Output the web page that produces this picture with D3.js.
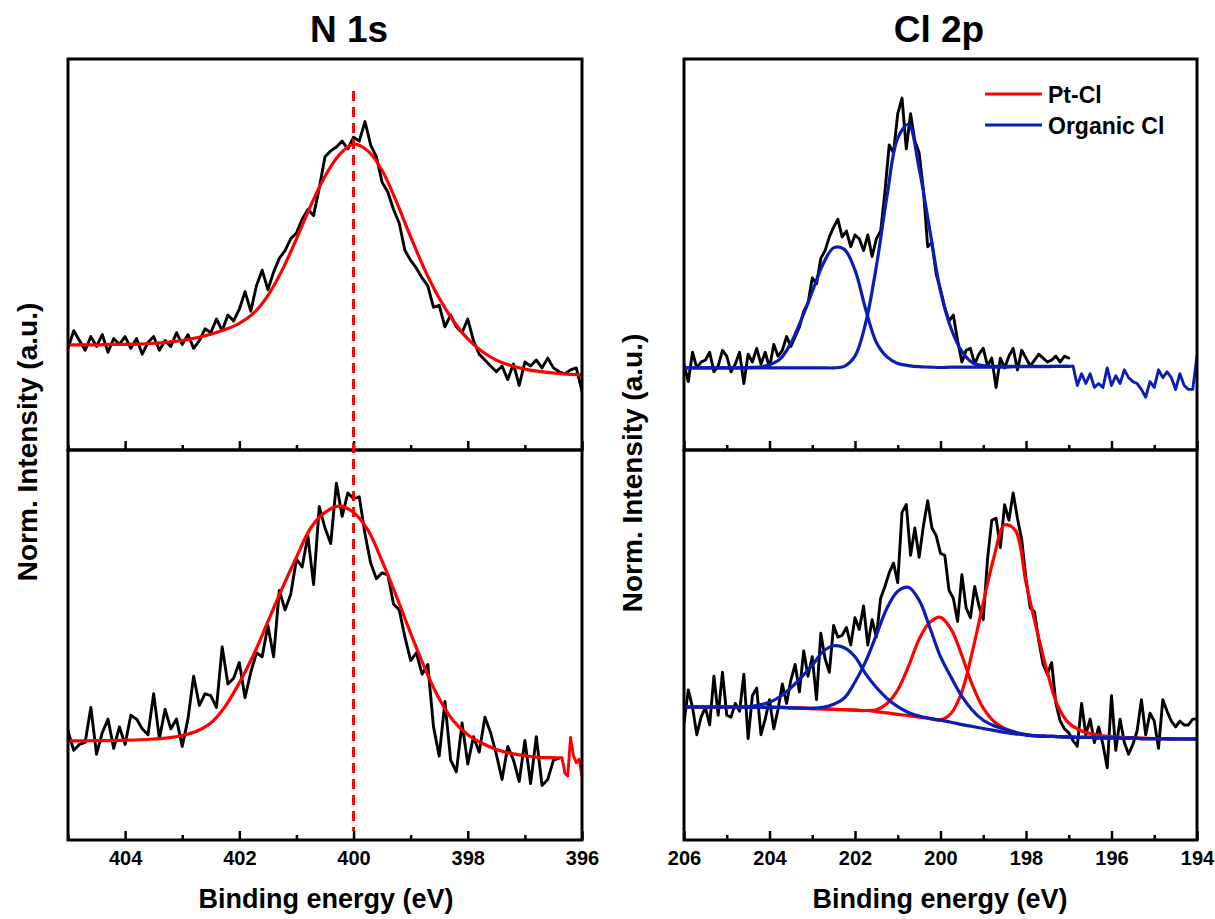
<!DOCTYPE html>
<html><head><meta charset="utf-8">
<script src="https://cdn.jsdelivr.net/npm/d3@7/dist/d3.min.js"></script>
<style>
body{margin:0;background:#fff;}
text{font-family:"Liberation Sans",Arial,sans-serif;font-weight:bold;fill:#000;}
</style>
</head><body>
<svg id="chart" width="1215" height="919"></svg>
<script>
// ---------------- DATA ----------------
// N 1s : energies run 405 -> 396 (eV)
const n1sRange = [405, 396];
const n1sTicks = [404, 402, 400, 398, 396];
const n1sMinor = [405, 403, 401, 399, 397];
const n1sDataStep = 0.1;
const n1sFitStep = 0.25;
// top spectrum (405 -> 396, 0.1 eV)
const n1sTopData = [26.0,30.5,28.0,25.5,29.0,26.5,29.5,25.0,28.5,27.0,
 29.0,26.0,28.5,24.5,27.5,29.0,25.5,28.0,26.5,30.0,
 27.0,29.5,26.0,28.0,31.0,30.0,33.5,30.5,34.5,33.0,
 36.0,40.5,35.5,42.0,46.0,41.0,45.5,49.0,51.0,54.0,
 55.5,59.0,61.5,60.0,67.0,75.0,76.5,77.5,79.0,77.0,
 80.0,79.0,84.0,78.0,75.0,68.5,66.0,61.5,58.0,51.0,
 48.5,46.5,44.0,42.0,36.5,37.0,31.5,34.5,31.5,30.0,
 33.5,28.0,24.5,23.0,21.5,20.0,21.5,18.0,22.0,16.5,
 22.5,21.5,23.0,21.0,23.5,21.0,20.0,19.5,20.5,21.0,
 15.0];
// top fit (405 -> 396, 0.25 eV)
const n1sTopFit = [26.9,26.9,26.9,27.0,27.0,27.1,27.3,27.6,28.0,28.7,29.6,30.8,32.4,35.0,39.5,46.0,54.0,62.5,70.0,75.5,78.2,76.5,71.5,63.5,54.5,46.0,38.8,33.0,28.4,25.2,23.0,21.6,20.7,20.1,19.7,19.4,19.2];
// bottom spectrum (405 -> 396.4, 0.1 eV)
const n1sBotData = [28.0,23.0,24.5,25.0,34.0,22.0,27.5,31.0,23.5,29.0,
 24.5,32.0,31.0,28.5,27.0,37.5,26.0,33.5,28.5,31.0,
 24.0,31.0,42.0,34.5,37.5,37.0,34.0,49.5,40.0,41.5,
 45.5,36.5,43.0,48.0,47.0,55.0,47.0,64.0,59.0,63.0,
 72.0,70.0,78.0,65.5,85.5,80.0,76.0,91.5,83.0,89.0,
 87.5,88.0,78.5,71.0,67.0,68.5,68.0,60.5,59.0,52.0,
 46.0,48.0,42.5,45.0,29.0,21.5,35.5,20.5,17.5,30.0,
 19.5,26.5,22.5,31.5,27.5,22.0,15.5,24.0,20.5,15.0,
 25.5,14.5,26.5,14.0,15.5,20.5,21.0];
// bottom fit (405 -> 396.5, 0.25 eV)
const n1sBotFit = [25.4,25.4,25.5,25.5,25.6,25.7,25.9,26.2,26.8,27.9,30.0,34.2,40.3,47.5,56.0,64.5,72.5,80.0,84.0,85.6,84.0,79.5,71.5,62.5,53.0,44.0,36.2,30.5,27.0,24.8,23.2,22.2,21.6,21.2,21.1];
// red end of bottom trace (396.5 -> 396.0, 0.05 eV)
const n1sBotTail = [21.1,21.1,21.1,21.1,17.2,16.4,26.3,21.6,19.8,20.7,16.4];
const n1sTailStep = 0.05;
// dashed reference line
const n1sRefEnergy = 400.0;
const n1sRefTop = 91.8;   // in top-panel units
const n1sRefBottom = 2.3; // in bottom-panel units

// Cl 2p : energies run 206 -> 194 (eV)
const cl2pRange = [206, 194];
const cl2pTicks = [206, 204, 202, 200, 198, 196, 194];
const cl2pMinor = [205, 203, 201, 199, 197, 195];
const cl2pDataStep = 0.1;
const cl2pFitStep = 0.25;
// top spectrum (206 -> 197, 0.1 eV)
const cl2pTopData = [22.0,17.5,25.0,21.0,22.5,23.0,25.0,20.0,21.5,25.5,
 24.0,20.0,22.0,25.0,17.0,24.5,22.5,26.0,22.0,25.0,
 21.0,27.0,24.0,25.5,29.0,26.5,29.0,31.5,35.5,37.5,
 44.0,42.5,49.0,51.0,54.5,57.0,59.0,54.5,56.0,52.0,
 55.0,54.0,51.0,55.0,49.5,54.0,56.0,66.0,78.0,76.0,
 86.0,90.0,77.0,86.0,79.0,76.0,66.5,52.0,53.0,45.0,
 41.0,36.5,33.0,34.5,28.0,22.5,25.5,26.0,22.0,24.5,
 26.0,21.5,23.5,16.0,23.5,21.0,24.0,26.0,20.5,25.5,
 23.5,21.5,23.0,24.5,23.5,22.5,23.0,24.0,22.5,24.0,
 23.5];
// blue end of top trace (197 -> 194, 0.1 eV)
const cl2pTopTail = [21.4,21.5,16.5,19.5,17.0,19.5,16.0,17.0,16.0,21.0,16.5,19.0,17.0,20.5,18.5,17.5,17.0,15.5,13.5,17.5,16.0,20.5,18.5,20.0,18.5,15.5,19.5,16.5,15.5,15.5,24.0];
// top organic Cl components (206 -> 197, 0.25 eV)
const cl2pTopOrgA = [21.0,21.0,21.0,21.0,21.0,21.0,21.1,21.2,21.8,23.3,27.3,33.5,40.5,47.5,51.7,51.3,46.0,36.0,27.5,23.8,22.1,21.6,21.3,21.2,21.1,21.2,21.2,21.2,21.2,21.2,21.2,21.3,21.3,21.3,21.3,21.4,21.4];
const cl2pTopOrgB = [21.0,21.0,21.0,21.0,21.0,21.0,21.0,21.0,21.0,21.0,21.0,21.0,21.0,21.0,21.0,21.4,24.0,32.5,47.0,65.0,79.8,83.3,72.0,56.2,40.6,31.0,25.2,22.3,21.6,21.4,21.4,21.4,21.4,21.4,21.4,21.4,21.4];
// bottom spectrum (206 -> 194, 0.1 eV)
const cl2pBotData = [30.0,38.5,34.0,27.0,31.5,34.0,29.5,42.0,32.0,43.0,
 32.0,31.5,35.0,33.0,42.5,26.0,37.0,39.0,27.0,31.0,
 36.0,28.5,33.5,40.0,35.0,41.0,45.0,38.0,48.5,42.0,
 47.0,36.0,53.0,46.5,43.0,55.0,52.0,52.5,54.5,50.0,
 57.0,54.0,60.0,50.0,56.5,52.0,62.0,65.0,68.5,71.0,
 66.0,84.0,86.0,73.0,80.0,72.5,80.5,87.0,80.0,78.0,
 73.5,73.0,64.0,62.0,56.0,68.0,59.5,57.0,65.0,60.0,
 56.5,72.0,82.0,82.5,75.0,86.0,82.0,89.0,82.5,77.0,
 67.0,59.5,58.5,51.0,45.0,42.5,45.5,35.0,30.5,28.5,
 27.5,25.5,24.0,35.0,27.0,31.0,25.0,29.0,24.5,18.5,
 37.0,23.0,31.0,25.0,22.0,24.5,28.0,36.0,27.0,32.5,
 30.5,23.5,36.0,33.0,30.5,29.0,30.5,29.5,29.5,31.0,
 31.0];
// bottom components (206 -> 194, 0.25 eV), background included
const cl2pBotPtA = [34.1,34.1,34.1,34.1,34.1,34.1,34.0,34.0,34.0,34.0,33.9,33.8,33.7,33.6,33.5,33.4,33.3,33.2,
 33.4,35.0,38.5,44.5,51.5,55.8,57.1,54.0,47.3,39.6,33.8,30.4,28.6,27.6,27.0,26.7,
 26.6,26.5,26.4,26.3,26.3,26.2,26.2,26.1,26.1,26.0,26.0,26.0,25.9,25.9,25.9];
const cl2pBotPtB = [34.1,34.1,34.1,34.1,34.1,34.1,34.0,34.0,34.0,34.0,33.9,33.8,33.7,33.6,33.5,33.4,33.3,33.2,32.9,32.6,32.2,31.9,31.5,31.1,
 30.8,32.5,38.0,48.5,60.8,72.5,80.8,79.4,66.0,54.0,43.0,34.2,30.0,28.2,27.3,26.8,26.5,26.3,26.2,26.1,26.0,26.0,25.9,25.9,25.9];
const cl2pBotOrgA = [34.1,34.1,34.1,34.1,34.1,34.1,
 34.2,34.6,35.3,36.8,39.0,41.8,44.8,48.3,49.8,49.3,47.0,42.6,39.1,36.3,34.2,32.7,31.8,31.2,30.7,30.2,29.6,29.1,28.6,28.1,27.6,27.2,26.9,26.7,26.6,26.5,26.4,26.3,26.3,26.2,26.2,26.1,26.1,26.0,26.0,26.0,25.9,25.9,25.9];
const cl2pBotOrgB = [34.1,34.1,34.1,34.1,34.1,34.1,34.0,34.0,34.0,34.0,33.9,33.8,
 33.8,34.0,34.8,36.4,40.5,45.8,52.6,59.5,63.8,64.8,61.5,54.5,47.0,41.7,36.8,33.2,30.7,29.3,28.4,27.6,27.0,26.7,26.6,
 26.5,26.4,26.3,26.3,26.2,26.2,26.1,26.1,26.0,26.0,26.0,25.9,25.9,25.9];

const legendItems = ["Pt-Cl", "Organic Cl"];
const titles = ["N 1s", "Cl 2p"];
const xTitle = "Binding energy (eV)";
const yTitle = "Norm. Intensity (a.u.)";

// ---------------- DRAWING ----------------
const RED = "#ff0000", BLUE = "#0a1eb4", BLACK = "#000";
const svg = d3.select("#chart");
svg.append("rect").attr("width",1215).attr("height",919).attr("fill","#fff");

const top0 = 59, mid = 450, bot = 840;
const xL = d3.scaleLinear().domain(n1sRange).range([68, 582]);
const xR = d3.scaleLinear().domain(cl2pRange).range([684, 1197]);
const yTop = d3.scaleLinear().domain([0, 100]).range([mid, top0]);
const yBot = d3.scaleLinear().domain([0, 100]).range([bot, mid]);
const smooth = d3.curveCatmullRom.alpha(0.5);

function series(start, step, vals){ return vals.map((v,i)=>({e:+(start - i*step).toFixed(3), v})); }

const defs = svg.append("defs");
function clip(id, x, y0, y1){
  defs.append("clipPath").attr("id", id).append("rect")
    .attr("x", x.range()[0]).attr("y", y1).attr("width", x.range()[1]-x.range()[0]).attr("height", y0-y1);
  return "url(#"+id+")";
}

function drawLine(g, x, y, data, color, width, curve){
  g.append("path").datum(data)
    .attr("fill","none").attr("stroke",color).attr("stroke-width",width)
    .attr("stroke-linejoin","round").attr("stroke-linecap","round")
    .attr("d", d3.line().x(d=>x(d.e)).y(d=>y(d.v)).curve(curve || d3.curveLinear));
}

function panel(x, y, id, layers, ticks, minor, labels){
  const g = svg.append("g").attr("clip-path", clip(id, x, y.range()[0], y.range()[1]));
  layers.forEach(L => drawLine(g, x, y, L.data, L.color, L.width, L.curve));
  const ax = svg.append("g").attr("transform","translate(0,"+y.range()[0]+")");
  ax.call(d3.axisBottom(x).tickValues(minor).tickSize(-5).tickFormat(""));
  const ax2 = svg.append("g").attr("transform","translate(0,"+y.range()[0]+")");
  ax2.call(d3.axisBottom(x).tickValues(ticks).tickSize(-9).tickPadding(11)
     .tickFormat(labels ? d3.format("d") : ""));
  [ax, ax2].forEach(a => {
    a.select(".domain").remove();
    a.selectAll("line").attr("stroke","#000").attr("stroke-width",2.5);
    a.selectAll("text").style("font-size","20px").style("font-family","'Liberation Sans',Arial,sans-serif").style("font-weight","bold").attr("fill","#000");
  });
  svg.append("rect").attr("x", x.range()[0]).attr("y", y.range()[1])
    .attr("width", x.range()[1]-x.range()[0]).attr("height", y.range()[0]-y.range()[1])
    .attr("fill","none").attr("stroke","#000").attr("stroke-width",3);
}

const DW = 2.9, FW = 3.2;
// N 1s top
panel(xL, yTop, "c1", [
  {data: series(n1sRange[0], n1sDataStep, n1sTopData), color: BLACK, width: DW},
  {data: series(n1sRange[0], n1sFitStep, n1sTopFit), color: RED, width: FW, curve: smooth}
], n1sTicks, n1sMinor, false);
// N 1s bottom
panel(xL, yBot, "c2", [
  {data: series(n1sRange[0], n1sDataStep, n1sBotData), color: BLACK, width: DW},
  {data: series(n1sRange[0], n1sFitStep, n1sBotFit), color: RED, width: FW, curve: smooth},
  {data: series(396.5, n1sTailStep, n1sBotTail), color: RED, width: DW}
], n1sTicks, n1sMinor, true);
// Cl 2p top
panel(xR, yTop, "c3", [
  {data: series(cl2pRange[0], cl2pDataStep, cl2pTopData), color: BLACK, width: DW},
  {data: series(197, cl2pDataStep, cl2pTopTail), color: BLUE, width: DW},
  {data: series(cl2pRange[0], cl2pFitStep, cl2pTopOrgA), color: BLUE, width: FW, curve: smooth},
  {data: series(cl2pRange[0], cl2pFitStep, cl2pTopOrgB), color: BLUE, width: FW, curve: smooth}
], cl2pTicks, cl2pMinor, false);
// Cl 2p bottom
panel(xR, yBot, "c4", [
  {data: series(cl2pRange[0], cl2pDataStep, cl2pBotData), color: BLACK, width: DW},
  {data: series(cl2pRange[0], cl2pFitStep, cl2pBotPtA), color: RED, width: FW, curve: smooth},
  {data: series(cl2pRange[0], cl2pFitStep, cl2pBotPtB), color: RED, width: FW, curve: smooth},
  {data: series(cl2pRange[0], cl2pFitStep, cl2pBotOrgA), color: BLUE, width: FW, curve: smooth},
  {data: series(cl2pRange[0], cl2pFitStep, cl2pBotOrgB), color: BLUE, width: FW, curve: smooth}
], cl2pTicks, cl2pMinor, true);

// dashed reference line across both N 1s panels
svg.append("line")
  .attr("x1", xL(n1sRefEnergy)).attr("x2", xL(n1sRefEnergy))
  .attr("y1", yTop(n1sRefTop)).attr("y2", yBot(n1sRefBottom))
  .attr("stroke", RED).attr("stroke-width", 3).attr("stroke-dasharray","10,6");

// titles
svg.append("text").attr("x", 349).attr("y", 42).attr("text-anchor","middle").style("font-size","37px").text(titles[0]);
svg.append("text").attr("x", 939).attr("y", 42).attr("text-anchor","middle").style("font-size","37px").text(titles[1]);
// x titles
svg.append("text").attr("x", 326).attr("y", 908).attr("text-anchor","middle").style("font-size","27px").text(xTitle);
svg.append("text").attr("x", 940).attr("y", 908).attr("text-anchor","middle").style("font-size","27px").text(xTitle);
// y titles
svg.append("text").attr("transform","translate(37,442) rotate(-90)").attr("text-anchor","middle").style("font-size","28px").text(yTitle);
svg.append("text").attr("transform","translate(642,473) rotate(-90)").attr("text-anchor","middle").style("font-size","28px").text(yTitle);

// legend
const legColors = [RED, BLUE];
const legY = [94, 125];
legendItems.forEach((t,i)=>{
  svg.append("line").attr("x1",985).attr("x2",1042).attr("y1",legY[i]).attr("y2",legY[i])
    .attr("stroke",legColors[i]).attr("stroke-width",3);
  svg.append("text").attr("x",1048).attr("y",legY[i]+8.5).style("font-size","23px").text(t);
});
</script>
</body></html>
